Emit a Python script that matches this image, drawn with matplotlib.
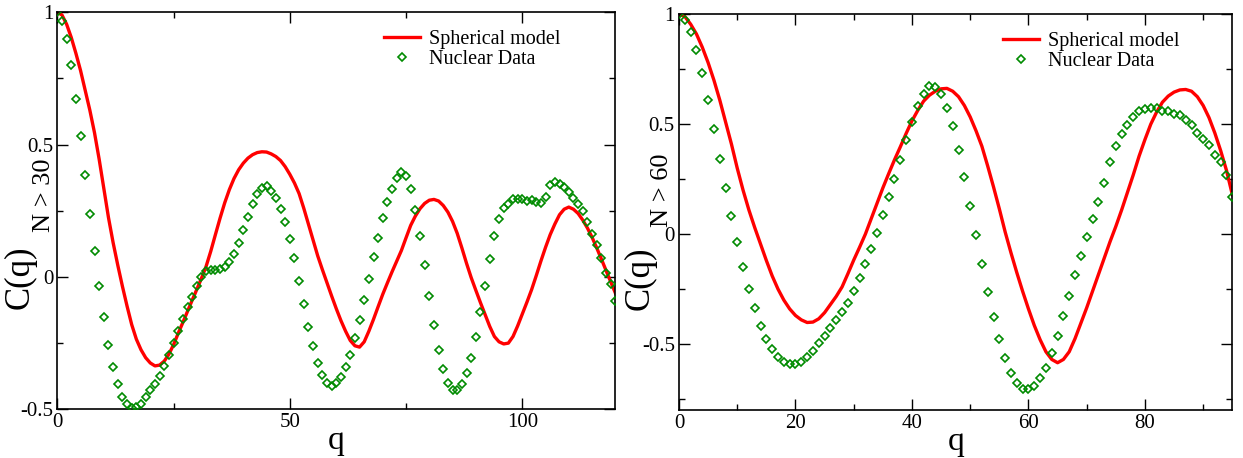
"""Two panels: spherical model vs nuclear data for C(q), N > 30 and N > 60."""

import matplotlib
matplotlib.use("Agg")
import matplotlib.pyplot as plt  # noqa: E402
from matplotlib.ticker import FixedLocator, MultipleLocator  # noqa: E402

plt.rcParams["font.family"] = ["Liberation Serif", "DejaVu Serif"]

# --- Данные -----------------------------------------------------------------

# Левая панель, N > 30: точки при целых q = 0..120
data30_q = list(range(0, 121))
data30_c = [
    1.000, 0.968, 0.900, 0.800, 0.673, 0.532, 0.387, 0.237, 0.097, -0.036,
    -0.152, -0.256, -0.339, -0.405, -0.452, -0.481, -0.495, -0.493, -0.479, -0.454,
    -0.428, -0.405, -0.374, -0.336, -0.294, -0.249, -0.203, -0.157, -0.113, -0.074,
    -0.033, -0.001, 0.023, 0.027, 0.027, 0.030, 0.038, 0.056, 0.087, 0.127,
    0.178, 0.228, 0.277, 0.315, 0.337, 0.342, 0.325, 0.298, 0.256, 0.208,
    0.143, 0.072, -0.014, -0.102, -0.189, -0.262, -0.325, -0.370, -0.401, -0.411,
    -0.402, -0.379, -0.340, -0.294, -0.231, -0.164, -0.086, -0.009, 0.076, 0.149,
    0.222, 0.285, 0.333, 0.373, 0.395, 0.383, 0.333, 0.252, 0.154, 0.044,
    -0.072, -0.180, -0.275, -0.348, -0.402, -0.428, -0.428, -0.405, -0.363, -0.305,
    -0.225, -0.132, -0.034, 0.067, 0.155, 0.218, 0.261, 0.277, 0.293, 0.295,
    0.294, 0.287, 0.289, 0.282, 0.278, 0.302, 0.347, 0.358, 0.352, 0.340,
    0.320, 0.299, 0.275, 0.250, 0.208, 0.164, 0.120, 0.073, 0.015, -0.028,
    -0.092,
]

model30_q = list(range(0, 121))
model30_c = [
    1.000, 0.990, 0.955, 0.905, 0.845, 0.780, 0.705, 0.630, 0.545, 0.445,
    0.335, 0.225, 0.130, 0.045, -0.035, -0.110, -0.180, -0.235, -0.275, -0.305,
    -0.325, -0.336, -0.333, -0.318, -0.292, -0.256, -0.213, -0.172, -0.130, -0.088,
    -0.047, -0.005, 0.040, 0.097, 0.160, 0.222, 0.280, 0.330, 0.372, 0.405,
    0.430, 0.449, 0.462, 0.470, 0.473, 0.472, 0.465, 0.455, 0.440, 0.417,
    0.388, 0.355, 0.315, 0.260, 0.200, 0.140, 0.080, 0.028, -0.022, -0.072,
    -0.120, -0.165, -0.205, -0.240, -0.260, -0.265, -0.245, -0.205, -0.160, -0.112,
    -0.065, -0.022, 0.020, 0.060, 0.100, 0.148, 0.195, 0.230, 0.258, 0.278,
    0.290, 0.293, 0.287, 0.270, 0.245, 0.210, 0.165, 0.110, 0.052, -0.002,
    -0.050, -0.097, -0.142, -0.187, -0.225, -0.245, -0.253, -0.250, -0.225, -0.185,
    -0.140, -0.095, -0.048, 0.005, 0.060, 0.112, 0.160, 0.200, 0.235, 0.256,
    0.264, 0.256, 0.240, 0.215, 0.185, 0.150, 0.110, 0.068, 0.025, -0.018,
    -0.060,
]

# Правая панель, N > 60: точки при целых q = 0..95
data60_q = list(range(0, 96))
data60_c = [
    1.000, 0.973, 0.921, 0.836, 0.733, 0.609, 0.480, 0.344, 0.212, 0.082,
    -0.038, -0.150, -0.250, -0.338, -0.416, -0.476, -0.524, -0.559, -0.582, -0.592,
    -0.592, -0.582, -0.561, -0.530, -0.497, -0.462, -0.429, -0.391, -0.355, -0.311,
    -0.259, -0.200, -0.138, -0.068, 0.005, 0.085, 0.167, 0.251, 0.338, 0.427,
    0.509, 0.583, 0.637, 0.672, 0.670, 0.639, 0.576, 0.491, 0.382, 0.262,
    0.127, -0.005, -0.138, -0.264, -0.379, -0.477, -0.562, -0.632, -0.676, -0.703,
    -0.705, -0.689, -0.655, -0.608, -0.539, -0.465, -0.371, -0.280, -0.185, -0.098,
    -0.011, 0.068, 0.147, 0.232, 0.326, 0.399, 0.456, 0.498, 0.533, 0.561,
    0.571, 0.573, 0.573, 0.561, 0.558, 0.545, 0.540, 0.521, 0.495, 0.462,
    0.435, 0.405, 0.359, 0.329, 0.271, 0.167,
]

model60_q = list(range(0, 96))
model60_c = [
    1.000, 0.990, 0.955, 0.910, 0.850, 0.780, 0.700, 0.610, 0.510, 0.410,
    0.300, 0.200, 0.110, 0.030, -0.045, -0.120, -0.190, -0.250, -0.300, -0.340,
    -0.370, -0.390, -0.402, -0.400, -0.385, -0.357, -0.320, -0.283, -0.240, -0.180,
    -0.118, -0.060, 0.000, 0.070, 0.140, 0.210, 0.275, 0.338, 0.397, 0.458,
    0.515, 0.563, 0.605, 0.632, 0.650, 0.661, 0.663, 0.650, 0.625, 0.585,
    0.533, 0.470, 0.400, 0.310, 0.215, 0.115, 0.010, -0.085, -0.175, -0.260,
    -0.340, -0.415, -0.480, -0.535, -0.570, -0.585, -0.570, -0.535, -0.475, -0.405,
    -0.335, -0.260, -0.185, -0.110, -0.035, 0.035, 0.110, 0.190, 0.270, 0.355,
    0.430, 0.500, 0.555, 0.600, 0.628, 0.646, 0.656, 0.658, 0.650, 0.625,
    0.585, 0.530, 0.460, 0.380, 0.290, 0.180,
]

yticks = [-0.5, 0, 0.5, 1]
ytick_labels = ["-0.5", "0", "0.5", "1"]

RED = "#ff0000"
GREEN = "#008b00"


def draw_panel(ax, mq, mc, dq, dc, xmax, xstep, ymin, xticks):
    ax.plot(mq, mc, color=RED, lw=2.4, label="Spherical model", zorder=2,
            solid_joinstyle="round")
    ax.plot(dq, dc, ls="none", marker="D", ms=3.6, mfc="none", mec=GREEN,
            mew=1.2, label="Nuclear Data", zorder=3)
    ax.set_xlim(0, xmax)
    ax.set_ylim(ymin, 1)
    ax.xaxis.set_major_locator(FixedLocator(xticks))
    ax.set_xticklabels([str(t) for t in xticks])
    ax.xaxis.set_minor_locator(MultipleLocator(xstep / 2))
    ax.yaxis.set_major_locator(FixedLocator(yticks))
    ax.set_yticklabels(ytick_labels)
    ax.yaxis.set_minor_locator(MultipleLocator(0.25))
    ax.tick_params(which="both", direction="in", top=True, right=True,
                   width=1.0, labelsize=15, pad=3)
    ax.tick_params(which="major", length=8)
    ax.tick_params(which="minor", length=4)
    for sp in ax.spines.values():
        sp.set_linewidth(1.2)
    ax.set_xlabel("q", fontsize=24, labelpad=-5)
    ax.legend(loc="upper left", bbox_to_anchor=(0.585, 0.955), frameon=False,
              fontsize=14.5, numpoints=1, borderpad=0, borderaxespad=0,
              handlelength=1.8, handletextpad=0.45, labelspacing=0.05)


fig = plt.figure(figsize=(12.43, 4.58), dpi=100)
W, H = 1243, 458

ax1 = fig.add_axes([57.3 / W, 48.7 / H, 558.0 / W, 397.0 / H])
draw_panel(ax1, model30_q, model30_c, data30_q, data30_c, 120, 50, -0.5, [0, 50, 100])

ax2 = fig.add_axes([679.0 / W, 48.0 / H, 553.3 / W, 395.7 / H])
draw_panel(ax2, model60_q, model60_c, data60_q, data60_c, 95, 20, -0.8, [0, 20, 40, 60, 80])

# подпись оси Y: C(q) крупно + индекс отдельным текстом
for x_main, y_main, x_sub, y_sub, sub in [(20, 277, 44, 195, "N > 30"),
                                          (640, 278, 662, 190, "N > 60")]:
    fig.text(x_main / W, 1 - y_main / H, "C(q)", fontsize=25, rotation=90,
             ha="center", va="center")
    fig.text(x_sub / W, 1 - y_sub / H, sub, fontsize=19, rotation=90,
             ha="center", va="center")

fig.savefig("out.png", dpi=100)
